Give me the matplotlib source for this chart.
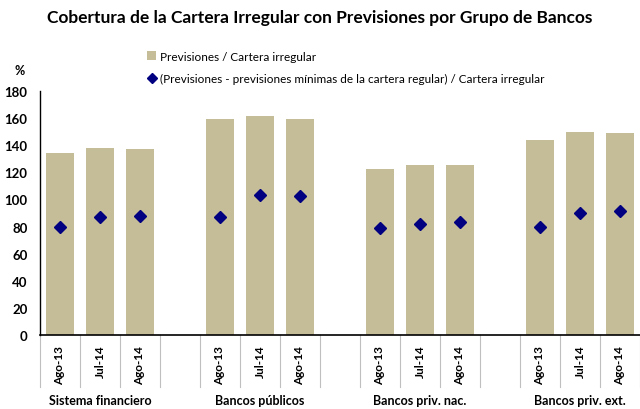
import matplotlib

matplotlib.use("Agg")

import matplotlib.pyplot as plt
import matplotlib.transforms as mtransforms
from matplotlib.lines import Line2D
from matplotlib.patches import Patch

plt.rcParams["font.family"] = ["Lato", "DejaVu Sans"]

GROUPS = ["Sistema financiero", "Bancos públicos", "Bancos priv. nac.", "Bancos priv. ext."]
PERIODS = ["Ago-13", "Jul-14", "Ago-14"]
PREVISIONES = [
    [134.0, 138.3, 137.5],
    [159.6, 161.9, 159.6],
    [122.3, 125.8, 125.8],
    [143.6, 149.6, 149.1],
]
NETO = [
    [79.4, 87.4, 88.1],
    [87.0, 103.5, 102.6],
    [79.2, 81.9, 83.1],
    [79.4, 90.1, 91.4],
]

BAR_COLOR = "#C4BD97"
DIAMOND_COLOR = "#000080"
SEP_COLOR = "#BFBFBF"


def main():
    fig = plt.figure(figsize=(6.4, 4.1), dpi=100)
    ax = fig.add_axes([0.0625, 0.1805, 0.9375, 0.595])

    xs, labels = [], []
    for g in range(len(GROUPS)):
        for p in range(len(PERIODS)):
            xs.append(g * 4 + p)
            labels.append(PERIODS[p])
    bars = [v for grp in PREVISIONES for v in grp]
    pts = [v for grp in NETO for v in grp]

    ax.bar(xs, bars, width=0.68, color=BAR_COLOR, zorder=2)
    ax.plot(xs, pts, linestyle="none", marker="D", markersize=6.5,
            color=DIAMOND_COLOR, zorder=3)

    ax.set_xlim(-0.5, 14.5)
    ax.set_ylim(0, 180)
    ax.set_yticks(range(0, 181, 20))
    ax.tick_params(axis="y", length=0, pad=9, labelsize=9.5)
    for lbl in ax.get_yticklabels():
        lbl.set_fontweight("bold")
    ax.set_xticks(xs)
    ax.set_xticklabels(labels, rotation=90, fontsize=8.5, fontweight="bold")
    ax.tick_params(axis="x", length=0, pad=7)

    for sp in ("top", "right"):
        ax.spines[sp].set_visible(False)
    ax.spines["left"].set_linewidth(1.0)
    ax.spines["bottom"].set_linewidth(1.2)

    # separators between categories, below the axis
    trans = mtransforms.blended_transform_factory(ax.transData, ax.transAxes)
    for k in range(16):
        ax.add_line(Line2D([k - 0.5, k - 0.5], [0, -0.215], transform=trans,
                           color=SEP_COLOR, linewidth=0.8, clip_on=False))

    for g, name in enumerate(GROUPS):
        ax.text(g * 4 + 1, -0.268, name, transform=trans, ha="center", va="center",
                fontsize=9, fontweight="bold")

    fig.text(0.023, 0.828, "%", ha="left", va="center", fontsize=9, fontweight="bold")
    fig.text(0.5, 0.955, "Cobertura de la Cartera Irregular con Previsiones por Grupo de Bancos",
             ha="center", va="center", fontsize=12.5, fontweight="bold")

    handles = [
        Patch(facecolor=BAR_COLOR, edgecolor="none", label="Previsiones / Cartera irregular"),
        Line2D([], [], linestyle="none", marker="D", markersize=5, color=DIAMOND_COLOR,
               label="(Previsiones - previsiones mínimas de la cartera regular) / Cartera irregular"),
    ]
    fig.legend(handles=handles, loc="upper left", bbox_to_anchor=(0.222, 0.885), frameon=False,
               fontsize=8.5, handlelength=0.8, handleheight=0.8, handletextpad=0.3,
               labelspacing=0.95, borderaxespad=0)

    fig.savefig("out.png", dpi=100, facecolor="white")
    plt.close(fig)


if __name__ == "__main__":
    main()
